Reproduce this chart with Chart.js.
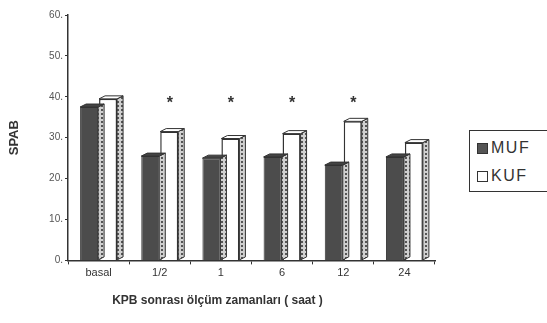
<!DOCTYPE html>
<html>
<head>
<meta charset="utf-8">
<script src="https://cdn.jsdelivr.net/npm/chart.js@4"></script>
<style>
  body { margin: 0; background: #fff; }
  #wrap { position: relative; width: 547px; height: 323px; overflow: hidden; }
  #legend {
    position: absolute; left: 469px; top: 130px; width: 82px; height: 62px;
    border: 1.5px solid #333; box-sizing: border-box; background: #fff;
    font: 16px "Liberation Sans", Arial, sans-serif; color: #333; letter-spacing: 1.5px;
  }
  #legend div { position: absolute; left: 7px; line-height: 16px; }
  #legend span { display: inline-block; width: 11px; height: 11px; border: 1.5px solid #333;
    margin-right: 3px; vertical-align: -1px; box-sizing: border-box; }
</style>
</head>
<body>
<div id="wrap">
  <canvas id="chart" width="547" height="323"></canvas>
  <div id="legend">
    <div style="top:9px"><span style="background:#555"></span>MUF</div>
    <div style="top:37px"><span style="background:#fff"></span>KUF</div>
  </div>
</div>
<script>
"use strict";

var categories = ["basal", "1/2", "1", "6", "12", "24"];
var mufValues = [37.5, 25.5, 25, 25.3, 23.3, 25.3];
var kufValues = [39.5, 31.5, 29.8, 31, 34, 28.8];
var significant = ["", "*", "*", "*", "*", ""];
var yTicks = [0, 10, 20, 30, 40, 50, 60];

var ink = "#333";

// dotted side face of the bars
function sidePattern(ctx) {
  var c = document.createElement("canvas");
  c.width = 4; c.height = 4;
  var p = c.getContext("2d");
  p.fillStyle = "#d0d0d0";
  p.fillRect(0, 0, 4, 4);
  p.fillStyle = "#555";
  p.fillRect(1, 1, 2, 2);
  return ctx.createPattern(c, "repeat");
}

var bars3d = {
  id: "bars3d",
  afterDatasetDraw: function(chart, args) {
    var ctx = chart.ctx;
    var meta = args.meta;
    var d = 6, r = 3;
    var pat = sidePattern(ctx);
    ctx.save();
    ctx.strokeStyle = ink;
    ctx.lineWidth = 1;
    meta.data.forEach(function(bar) {
      var p = bar.getProps(["x", "y", "base", "width"], true);
      var x1 = p.x + p.width / 2;
      var x0 = p.x - p.width / 2;
      // side
      ctx.beginPath();
      ctx.moveTo(x1, p.y);
      ctx.lineTo(x1 + d, p.y - r);
      ctx.lineTo(x1 + d, p.base - r);
      ctx.lineTo(x1, p.base);
      ctx.closePath();
      ctx.fillStyle = pat;
      ctx.fill();
      ctx.stroke();
      // top
      ctx.beginPath();
      ctx.moveTo(x0, p.y);
      ctx.lineTo(x0 + d, p.y - r);
      ctx.lineTo(x1 + d, p.y - r);
      ctx.lineTo(x1, p.y);
      ctx.closePath();
      ctx.fillStyle = args.index === 0 ? "#444" : "#fff";
      ctx.fill();
      ctx.stroke();
    });
    ctx.restore();
  },
  afterDraw: function(chart) {
    var ctx = chart.ctx;
    var xs = chart.scales.x, ys = chart.scales.y;
    ctx.save();
    ctx.fillStyle = ink;
    ctx.font = "bold 16px 'Liberation Sans', Arial, sans-serif";
    ctx.textAlign = "center";
    significant.forEach(function(s, i) {
      if (!s) return;
      ctx.fillText(s, xs.getPixelForValue(i) + 10, ys.getPixelForValue(37.2));
    });
    ctx.restore();
  }
};

new Chart(document.getElementById("chart"), {
  type: "bar",
  data: {
    labels: categories,
    datasets: [{
      label: "MUF",
      data: mufValues,
      backgroundColor: "#4c4c4c",
      borderColor: ink,
      borderWidth: 1,
      categoryPercentage: 0.62,
      barPercentage: 0.95
    }, {
      label: "KUF",
      data: kufValues,
      backgroundColor: "#fff",
      borderColor: ink,
      borderWidth: 1.5,
      categoryPercentage: 0.62,
      barPercentage: 0.95
    }]
  },
  plugins: [bars3d],
  options: {
    responsive: false,
    animation: false,
    layout: { padding: { left: 0, right: 112, top: 15, bottom: 15 } },
    plugins: {
      legend: { display: false },
      tooltip: { enabled: false },
      title: {
        display: true,
        position: "bottom",
        text: "KPB sonrası ölçüm zamanları ( saat )",
        color: ink,
        font: { family: "'Liberation Sans', Arial, sans-serif", size: 12 },
        padding: { top: 12, bottom: 0 }
      }
    },
    scales: {
      x: {
        grid: { display: true, drawOnChartArea: false, offset: true, tickLength: 4, color: ink },
        border: { color: ink, width: 1.5 },
        ticks: { color: ink, font: { family: "'Liberation Sans', Arial, sans-serif", size: 11 }, padding: 2 }
      },
      y: {
        min: 0, max: 60,
        afterBuildTicks: function(scale) {
          scale.ticks = yTicks.map(function(v) { return { value: v }; });
        },
        afterFit: function(scale) { scale.width = 68; },
        grid: { display: true, drawOnChartArea: false, tickLength: 3, color: ink },
        border: { color: ink, width: 1.5 },
        ticks: {
          color: "#555",
          font: { family: "'Liberation Sans', Arial, sans-serif", size: 10 },
          padding: 2,
          callback: function(v) { return v + "."; }
        },
        title: {
          display: true,
          text: "SPAB",
          color: ink,
          font: { family: "'Liberation Sans', Arial, sans-serif", size: 13, weight: "bold" },
          padding: { top: 7, bottom: 4 }
        }
      }
    }
  }
});
</script>
</body>
</html>
